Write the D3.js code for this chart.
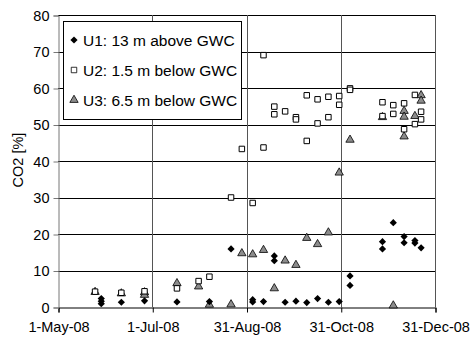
<!DOCTYPE html>
<html>
<head>
<meta charset="utf-8">
<script src="https://cdn.jsdelivr.net/npm/d3@7"></script>
<style>
  body { margin: 0; background: #fff; }
  svg { display: block; font-family: "Liberation Sans", Arial, sans-serif; }
</style>
</head>
<body>
<svg id="chart"></svg>
<script>
let width = 471;
let height = 339;
let margin = { left: 58, right: 36, top: 15, bottom: 32 };

// series names (legend)
const seriesNames = ["U1: 13 m above GWC", "U2: 1.5 m below GWC", "U3: 6.5 m below GWC"];

// tick labels
const xTickDates = ["2008-05-01", "2008-07-01", "2008-08-31", "2008-10-31", "2008-12-31"];
const yTicks = [0, 10, 20, 30, 40, 50, 60, 70, 80];

// U1 - diamonds
const u1 = [
  ["2008-05-29", 2.3], ["2008-05-29", 1.6], ["2008-05-29", 0.9],
  ["2008-06-11", 1.3], ["2008-06-26", 1.7], ["2008-07-17", 1.4],
  ["2008-08-07", 1.5], ["2008-08-21", 15.9],
  ["2008-09-04", 1.4], ["2008-09-04", 2.0], ["2008-09-11", 1.5],
  ["2008-09-18", 14.0], ["2008-09-18", 12.7], ["2008-09-25", 1.3],
  ["2008-10-02", 1.6], ["2008-10-09", 1.2], ["2008-10-16", 2.3],
  ["2008-10-23", 1.3], ["2008-10-30", 1.5],
  ["2008-11-06", 8.5], ["2008-11-06", 5.9],
  ["2008-11-27", 17.9], ["2008-11-27", 15.9], ["2008-12-04", 23.1],
  ["2008-12-11", 19.3], ["2008-12-11", 17.6],
  ["2008-12-18", 18.2], ["2008-12-18", 17.5], ["2008-12-22", 16.2]
];

// U2 - open squares
const u2 = [
  ["2008-05-25", 4.2], ["2008-06-11", 3.9], ["2008-06-26", 4.3],
  ["2008-07-17", 5.1], ["2008-07-31", 7.1], ["2008-08-07", 8.3],
  ["2008-08-21", 30.0], ["2008-08-28", 43.3], ["2008-09-04", 28.5],
  ["2008-09-11", 69.0], ["2008-09-11", 43.7],
  ["2008-09-18", 54.9], ["2008-09-18", 52.8], ["2008-09-25", 53.6],
  ["2008-10-02", 52.0], ["2008-10-02", 51.4],
  ["2008-10-09", 58.0], ["2008-10-09", 45.5],
  ["2008-10-16", 56.9], ["2008-10-16", 50.3],
  ["2008-10-23", 57.6], ["2008-10-23", 52.0],
  ["2008-10-30", 57.8], ["2008-10-30", 55.4],
  ["2008-11-06", 59.9], ["2008-11-06", 59.5],
  ["2008-11-27", 56.1], ["2008-11-27", 52.3],
  ["2008-12-04", 55.3], ["2008-12-04", 52.9],
  ["2008-12-11", 55.8], ["2008-12-11", 48.7],
  ["2008-12-18", 58.1], ["2008-12-18", 50.1],
  ["2008-12-22", 53.5], ["2008-12-22", 51.4]
];

// U3 - grey triangles
const u3 = [
  ["2008-05-25", 4.1], ["2008-06-11", 3.7], ["2008-06-26", 4.0], ["2008-06-26", 3.3],
  ["2008-07-17", 6.5], ["2008-07-31", 5.6], ["2008-08-07", 0.6], ["2008-08-21", 0.7],
  ["2008-08-28", 14.7], ["2008-09-04", 14.4], ["2008-09-11", 15.6],
  ["2008-09-18", 5.1], ["2008-09-25", 12.7], ["2008-10-02", 11.5],
  ["2008-10-09", 18.9], ["2008-10-16", 17.2], ["2008-10-23", 20.4],
  ["2008-10-30", 36.8], ["2008-11-06", 45.8], ["2008-11-27", 52.0],
  ["2008-12-04", 0.4],
  ["2008-12-11", 53.7], ["2008-12-11", 52.1], ["2008-12-11", 46.7],
  ["2008-12-18", 52.3], ["2008-12-22", 58.0], ["2008-12-22", 56.5]
];

const parseDate = d3.timeParse("%Y-%m-%d");
const fmtDate = d3.timeFormat("%-d-%b-%y");

let svg = d3.select("#chart").attr("width", width).attr("height", height);

let xScale = d3.scaleTime()
  .domain([parseDate("2008-05-01"), parseDate("2008-12-31")])
  .range([margin.left, width - margin.right]);

let yScale = d3.scaleLinear()
  .domain([0, 80])
  .range([height - margin.bottom, margin.top]);

// gridlines
svg.append("g")
  .selectAll("line")
  .data(yTicks.slice(1))
  .join("line")
  .attr("x1", margin.left).attr("x2", width - margin.right)
  .attr("y1", d => Math.round(yScale(d)) + 0.5).attr("y2", d => Math.round(yScale(d)) + 0.5)
  .attr("stroke", "#000").attr("stroke-width", 1);

svg.append("g")
  .selectAll("line")
  .data(xTickDates.slice(1))
  .join("line")
  .attr("x1", d => Math.round(xScale(parseDate(d))) + 0.5)
  .attr("x2", d => Math.round(xScale(parseDate(d))) + 0.5)
  .attr("y1", margin.top).attr("y2", height - margin.bottom)
  .attr("stroke", "#555").attr("stroke-width", 1);

// axes
let xAxis = d3.axisBottom(xScale)
  .tickValues(xTickDates.map(parseDate))
  .tickFormat(fmtDate)
  .tickSizeOuter(0)
  .tickSize(5)
  .tickPadding(9);

let yAxis = d3.axisLeft(yScale)
  .tickValues(yTicks)
  .tickSizeOuter(0)
  .tickSize(5)
  .tickPadding(4);

let gx = svg.append("g")
  .attr("transform", `translate(0.5, ${Math.round(yScale(0)) + 0.5})`)
  .call(xAxis);
gx.select(".domain").attr("stroke", "#000");
gx.selectAll(".tick line").attr("stroke", "#000");
gx.selectAll("text").attr("font-size", 14.5).attr("fill", "#000")
  .attr("font-family", "Liberation Sans, Arial, sans-serif");

let gy = svg.append("g")
  .attr("transform", `translate(${margin.left + 0.5}, 0.5)`)
  .call(yAxis);
gy.select(".domain").attr("stroke", "#777");
gy.selectAll(".tick line").attr("stroke", "#777");
gy.selectAll("text").attr("font-size", 14.5).attr("fill", "#000")
  .attr("font-family", "Liberation Sans, Arial, sans-serif");

// y axis title
svg.append("text")
  .attr("transform", `translate(18, 160) rotate(-90)`)
  .attr("text-anchor", "middle")
  .attr("dominant-baseline", "central")
  .attr("font-size", 14.5)
  .text("CO2 [%]");

// markers (diamond = square turned 45deg, like Excel's marker)
const diamond = d3.symbol().type(d3.symbolSquare).size(26);
const square = d3.symbol().type(d3.symbolSquare).size(30);
const triangle = d3.symbol().type(d3.symbolTriangle).size(30);

const px = d => xScale(parseDate(d[0]));
const py = d => yScale(d[1]);

svg.append("g").selectAll("path")
  .data(u3).join("path")
  .attr("d", triangle)
  .attr("transform", d => `translate(${px(d)}, ${py(d)})`)
  .attr("fill", "#8c8c8c").attr("stroke", "#000").attr("stroke-width", 0.8);

svg.append("g").selectAll("path")
  .data(u2).join("path")
  .attr("d", square)
  .attr("transform", d => `translate(${px(d)}, ${py(d)})`)
  .attr("fill", "#fff").attr("stroke", "#000").attr("stroke-width", 1);

svg.append("g").selectAll("path")
  .data(u1).join("path")
  .attr("d", diamond)
  .attr("transform", d => `translate(${px(d)}, ${py(d)}) rotate(45)`)
  .attr("fill", "#000");

// legend
let legend = svg.append("g");
legend.append("rect")
  .attr("x", 63.5).attr("y", 21.5).attr("width", 178).attr("height", 98)
  .attr("fill", "#fff").attr("stroke", "#000").attr("stroke-width", 1);

const legendSymbols = [
  { sym: diamond, fill: "#000", stroke: "none", rot: 45 },
  { sym: square, fill: "#fff", stroke: "#000", rot: 0 },
  { sym: triangle, fill: "#8c8c8c", stroke: "#000", rot: 0 }
];

seriesNames.forEach((name, i) => {
  let y = 40 + i * 30;
  legend.append("path")
    .attr("d", legendSymbols[i].sym)
    .attr("transform", `translate(74, ${y}) rotate(${legendSymbols[i].rot})`)
    .attr("fill", legendSymbols[i].fill)
    .attr("stroke", legendSymbols[i].stroke)
    .attr("stroke-width", 0.8);
  legend.append("text")
    .attr("x", 83).attr("y", y)
    .attr("dominant-baseline", "central")
    .attr("font-size", 15.5)
    .text(name);
});
</script>
</body>
</html>
